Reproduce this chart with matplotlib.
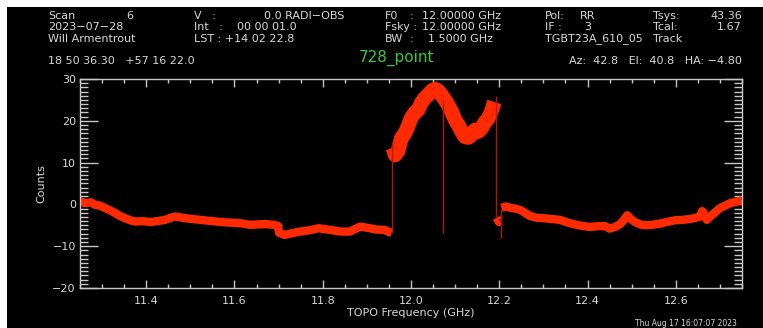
import numpy as np
import matplotlib
matplotlib.use("Agg")
import matplotlib.pyplot as plt
from matplotlib.patches import Rectangle
from matplotlib.ticker import MultipleLocator

# ---- data ----
seg1_freq = [11.250, 11.262, 11.275, 11.284, 11.296, 11.307, 11.318, 11.330, 11.341, 11.352,
             11.364, 11.375, 11.390, 11.410, 11.425, 11.443, 11.455, 11.465, 11.477, 11.488,
             11.505, 11.522, 11.540, 11.560, 11.580, 11.600, 11.620, 11.635, 11.650, 11.670,
             11.690, 11.699, 11.701, 11.714, 11.730, 11.748, 11.770, 11.790, 11.810, 11.840,
             11.862, 11.875, 11.885, 11.895, 11.907, 11.920, 11.940, 11.950, 11.956]
seg1_counts = [0.8, 0.3, 0.5, -0.1, -0.3, -0.9, -1.4, -2.1, -2.8, -3.3,
               -3.8, -4.1, -4.0, -4.2, -4.0, -3.7, -3.2, -2.9, -3.1, -3.3,
               -3.5, -3.7, -3.9, -4.1, -4.3, -4.4, -4.6, -4.9, -4.8, -4.7,
               -4.9, -5.2, -6.8, -7.3, -6.9, -6.5, -6.2, -5.7, -6.0, -6.5,
               -6.5, -5.8, -5.3, -5.5, -5.7, -6.0, -6.1, -6.6, -6.8]

seg2_freq = [11.959, 11.964, 11.971, 11.978, 11.986, 11.993, 12.000, 12.009, 12.016, 12.024,
             12.031, 12.039, 12.047, 12.054, 12.062, 12.069, 12.077, 12.084, 12.092, 12.100,
             12.107, 12.115, 12.122, 12.130, 12.137, 12.145, 12.152, 12.160, 12.167, 12.175,
             12.182, 12.189]
seg2_counts = [13.5, 11.8, 12.8, 15.8, 17.0, 18.6, 20.6, 22.0, 22.6, 24.4,
               25.4, 26.2, 27.2, 27.6, 27.2, 26.2, 25.0, 23.8, 22.2, 20.2,
               19.0, 17.4, 16.2, 16.0, 16.6, 17.8, 17.4, 18.2, 19.6, 20.6,
               22.2, 24.5]

seg3_freq = [12.194, 12.199, 12.202]
seg3_counts = [-3.2, -4.2, -4.0]

seg4_freq = [12.205, 12.215, 12.225, 12.235, 12.247, 12.258, 12.270, 12.285, 12.300, 12.320,
             12.337, 12.360, 12.380, 12.405, 12.425, 12.440, 12.450, 12.462, 12.473, 12.482,
             12.490, 12.498, 12.507, 12.520, 12.530, 12.545, 12.564, 12.580, 12.598, 12.615,
             12.632, 12.645, 12.655, 12.660, 12.664, 12.670, 12.677, 12.690, 12.700, 12.712,
             12.723, 12.735, 12.750]
seg4_counts = [-0.8, -0.5, -0.8, -1.0, -1.3, -2.0, -2.8, -3.2, -3.3, -3.5,
               -3.7, -4.5, -5.0, -5.4, -5.2, -5.2, -5.8, -5.4, -4.8, -3.8,
               -2.6, -3.5, -4.2, -4.8, -5.0, -4.9, -4.6, -4.2, -3.8, -3.7,
               -3.5, -3.2, -2.9, -1.6, -2.2, -3.7, -3.0, -1.8, -0.9, -0.3,
               0.3, 0.6, 1.0]

spike_freq = [11.957, 12.073, 12.192, 12.205]
spike_low = [-6.8, -6.8, -3.0, -8.0]
spike_high = [15.0, 25.0, 26.0, -1.0]

xticks = [11.4, 11.6, 11.8, 12.0, 12.2, 12.4, 12.6]
yticks = [-20, -10, 0, 10, 20, 30]

# ---- figure ----
W, H = 763, 328
fig = plt.figure(figsize=(W / 100, H / 100), dpi=100, facecolor="white")
bg = Rectangle((7 / W, 0), 1 - 7 / W, 1 - 7 / H, transform=fig.transFigure,
               facecolor="black", edgecolor="none", zorder=-10)
fig.add_artist(bg)

ax = fig.add_axes([80 / W, 1 - 288 / H, (742 - 80) / W, (288 - 79) / H])
ax.set_zorder(5)
ax.set_facecolor("black")

band = "#ff2a00"
dark = "#b01a00"
ax.vlines(spike_freq, spike_low, spike_high, color=dark, lw=1.0, zorder=4)
for fx, cy, lw in [(seg1_freq, seg1_counts, 6.0), (seg2_freq, seg2_counts, 10.5),
                   (seg3_freq, seg3_counts, 6.0), (seg4_freq, seg4_counts, 6.0)]:
    ax.plot(fx, cy, color=band, lw=lw, solid_joinstyle="round",
            solid_capstyle="butt", zorder=3)

ax.set_xlim(11.25, 12.75)
ax.set_ylim(-20, 30)

axc = "#c8c8c8"
for s in ax.spines.values():
    s.set_color(axc)
    s.set_linewidth(1.0)
    s.set_zorder(6)
ax.set_xticks(xticks)
ax.set_yticks(yticks)
ax.xaxis.set_minor_locator(MultipleLocator(0.05))
ax.yaxis.set_minor_locator(MultipleLocator(1))
ax.tick_params(axis="both", which="both", direction="in", colors=axc,
               top=True, right=True, labelsize=8, labelcolor="#d8d8d8")
ax.tick_params(axis="x", which="major", length=6, width=1, pad=6)
ax.tick_params(axis="x", which="minor", length=3, width=1)
ax.tick_params(axis="y", which="major", length=13, width=1, pad=3)
ax.tick_params(axis="y", which="minor", length=6, width=1)
ax.set_xticklabels([f"{t:.1f}" for t in xticks])
ax.set_yticklabels([f"{t:d}".replace("-", "\u2212") for t in yticks])

ax.set_xlabel("TOPO Frequency (GHz)", color="#d8d8d8", fontsize=8, labelpad=1)
ax.set_ylabel("Counts", color="#d8d8d8", fontsize=8, labelpad=4)

# ---- header text ----
tc = "#d8d8d8"
fs = 8
def t(x, y, s, ha="left", **kw):
    kw.setdefault("fontsize", fs)
    kw.setdefault("color", tc)
    fig.text(x / W, 1 - y / H, s, ha=ha, va="center", **kw)

t(48, 16, "Scan"); t(133, 16, "6", ha="right")
t(48, 27, "2023\u221207\u221228")
t(48, 39, "Will Armentrout")
t(194, 16, "V   :"); t(264, 16, "0.0 RADI\u2212OBS")
t(194, 27, "Int   :"); t(237, 27, "00 00 01.0")
t(194, 39, "LST : +14 02 22.8")
t(385, 16, "F0"); t(410, 16, ":"); t(422, 16, "12.00000 GHz")
t(385, 27, "Fsky :"); t(422, 27, "12.00000 GHz")
t(385, 39, "BW"); t(410, 39, ":"); t(428, 39, "1.5000 GHz")
t(545, 16, "Pol:"); t(580, 16, "RR")
t(545, 27, "IF :"); t(584, 27, "3")
t(545, 39, "TGBT23A_610_05")
t(653, 16, "Tsys:"); t(742, 16, "43.36", ha="right")
t(653, 27, "Tcal:"); t(742, 27, "1.67", ha="right")
t(653, 39, "Track")
t(48, 61, "18 50 36.30   +57 16 22.0")
t(397, 58, "728_point", ha="center", fontsize=11, color="#3cc83c")
t(742, 61, "Az:  42.8   El:  40.8   HA: \u22124.80", ha="right")
t(737, 324, "Thu Aug 17 16:07:07 2023", ha="right", fontsize=5.5)

fig.savefig("out.png", dpi=100, facecolor=fig.get_facecolor())
